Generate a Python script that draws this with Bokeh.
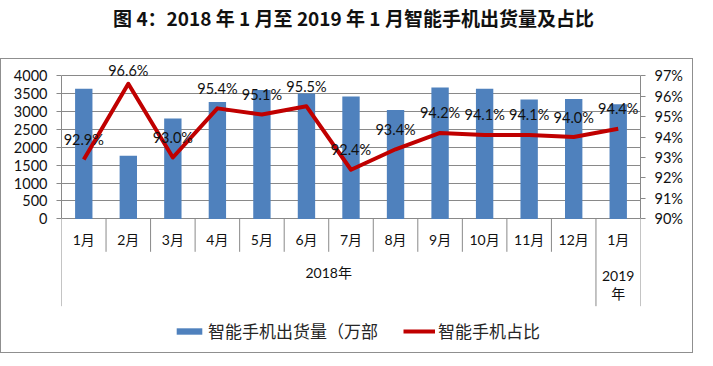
from bokeh.plotting import figure
from bokeh.models import (Range1d, LinearAxis, FixedTicker, ColumnDataSource, Legend,
                          LegendItem, Div, PrintfTickFormatter)
from bokeh.layouts import column
from bokeh.core.properties import value
from bokeh.embed import file_html
from bokeh.resources import INLINE

# ---------------- data ----------------
months = ["1月", "2月", "3月", "4月", "5月", "6月", "7月", "8月", "9月", "10月", "11月", "12月", "1月"]
year_labels = ["2018年", "2019\n年"]
year_spans = [12, 1]
shipments = [3630, 1760, 2800, 3260, 3600, 3500, 3420, 3040, 3670, 3630, 3330, 3350, 3200]
share = [92.9, 96.6, 93.0, 95.4, 95.1, 95.5, 92.4, 93.4, 94.2, 94.1, 94.1, 94.0, 94.4]
left_ticks = [0, 500, 1000, 1500, 2000, 2500, 3000, 3500, 4000]
right_ticks = [90, 91, 92, 93, 94, 95, 96, 97]
title_text = "图 4：2018 年 1 月至 2019 年 1 月智能手机出货量及占比"
legend_bar = "智能手机出货量（万部"
legend_line = "智能手机占比"

# ---------------- layout constants ----------------
FRAME_H = 293          # frame height in px
TOP_PAD = 16           # px between frame top and the top tick line
ZERO_PX = 142.3        # px from top tick line down to value 0
L_MAX, R_MIN, R_MAX = left_ticks[-1], right_ticks[0], right_ticks[-1]
L_PER_PX = L_MAX / ZERO_PX
R_PER_PX = (R_MAX - R_MIN) / ZERO_PX


def lval(px):
    """left-range value for a pixel distance below the top tick line"""
    return L_MAX - px * L_PER_PX


def rval(px):
    return R_MAX - px * R_PER_PX


BAR_COLOR = "#4F81BD"
LINE_COLOR = "#C00000"
GRID = "#898989"
NUM_FONT = value("Lato")
MIX_FONT = value("Lato, Noto Sans CJK SC")

n = len(months)
xs = list(range(n))

p = figure(width=693, height=295, output_backend="svg", toolbar_location=None,
           x_range=Range1d(-0.5, n - 0.5),
           y_range=Range1d(lval(FRAME_H - TOP_PAD), lval(-TOP_PAD)),
           x_axis_location=None, y_axis_location=None,
           min_border_left=60, min_border_right=54, min_border_top=0, min_border_bottom=0,
           styles={"border": "1px solid #8f8f8f"})
p.outline_line_color = None
p.xgrid.visible = False
p.ygrid.ticker = FixedTicker(ticks=left_ticks)
p.ygrid.grid_line_color = GRID
p.extra_y_ranges = {"pct": Range1d(rval(FRAME_H - TOP_PAD), rval(-TOP_PAD))}

# axes
la = LinearAxis(ticker=FixedTicker(ticks=left_ticks), bounds=(0, L_MAX))
ra = LinearAxis(y_range_name="pct", ticker=FixedTicker(ticks=right_ticks), bounds=(R_MIN, R_MAX),
                formatter=PrintfTickFormatter(format="%d%%"))
for ax in (la, ra):
    ax.axis_line_color = GRID
    ax.major_tick_line_color = GRID
    ax.major_tick_in = 0
    ax.major_tick_out = 5
    ax.minor_tick_line_color = None
    ax.major_label_text_font = "Lato"
    ax.major_label_text_font_size = "14.5px"
    ax.major_label_text_color = "#111111"
    ax.major_label_standoff = 9
p.add_layout(la, "left")
p.add_layout(ra, "right")

# bars
bars = p.vbar(x=xs, top=shipments, width=0.39, bottom=0, fill_color=BAR_COLOR, line_color=None)

# line
line = p.line(x=xs, y=share, y_range_name="pct", line_color=LINE_COLOR, line_width=4,
              line_join="round")

# data labels (above points, kept inside chart area)
offs = []
for v in share:
    pt = (R_MAX - v) / R_PER_PX
    offs.append(max(pt - 20, -5) - pt)
lab_src = ColumnDataSource(dict(x=xs, y=share, t=[f"{v:.1f}%" for v in share], off=offs))
p.text(x="x", y="y", text="t", y_offset="off", source=lab_src, y_range_name="pct",
       text_align="center", text_baseline="middle", text_font=NUM_FONT,
       text_font_size="14.5px", text_color="#111111")

# category axis (drawn below the zero line)
p.text(x=xs, y=[lval(163)] * n, text=months, text_align="center", text_baseline="middle",
       text_font=MIX_FONT, text_font_size="14px", text_color="#111111")

bounds = [0]
for s in year_spans:
    bounds.append(bounds[-1] + s)
group_b = set(bounds)
sx, sy0, sy1 = [], [], []
for b in range(n + 1):
    sx.append(b - 0.5)
    sy0.append(0)
    sy1.append(lval(229) if b in group_b else lval(175))
p.segment(x0=sx, y0=sy0, x1=sx, y1=sy1, line_color=GRID, line_width=1)

gx = [(bounds[i] + bounds[i + 1]) / 2 - 0.5 for i in range(len(year_spans))]
gy = [lval(196), lval(207.5)]
p.text(x=gx, y=gy, text=year_labels, text_align="center",
       text_baseline="middle", text_font=MIX_FONT, text_font_size="14px",
       text_color="#111111", text_line_height=1.05)

# legend
legend = Legend(items=[LegendItem(label=legend_bar, renderers=[bars]),
                       LegendItem(label=legend_line, renderers=[line])],
                orientation="horizontal", location=(112, 11))
legend.label_text_font = "Noto Sans CJK SC"
legend.label_text_font_size = "17px"
legend.label_text_color = "#262626"
legend.glyph_width = 32
legend.glyph_height = 8
legend.label_standoff = 3
legend.spacing = 25
legend.padding = 0
legend.margin = 0
legend.border_line_color = None
legend.background_fill_alpha = 0
p.add_layout(legend, "center")

title = Div(text=title_text, width=697, height=48,
            styles={"font-family": "Noto Sans CJK SC", "font-weight": "bold",
                    "font-size": "19px", "text-align": "center", "line-height": "26px",
                    "color": "#111111", "width": "697px"})

layout = column(title, p, spacing=0)
open("out.html", "w").write(file_html(layout, INLINE))
